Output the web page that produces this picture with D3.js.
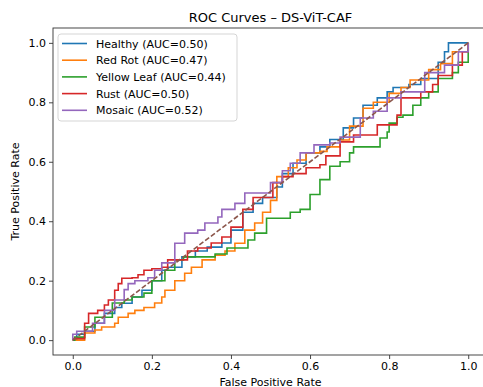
<!DOCTYPE html>
<html>
<head>
<meta charset="utf-8">
<script src="https://cdn.jsdelivr.net/npm/d3@7"></script>
<style>
  body { margin: 0; background: #fff; }
  svg { display: block; overflow: hidden; }
  text { font-family: "DejaVu Sans", sans-serif; fill: #000; }
</style>
</head>
<body>
<script>
(function () {

  // ROC points, [fpr, tpr]
  let healthy = [
    [0, 0], [0.01, 0.02], [0.03, 0.03], [0.056, 0.057], [0.08, 0.09], [0.106, 0.11], [0.124, 0.124],
    [0.15, 0.145], [0.175, 0.168], [0.2, 0.2], [0.225, 0.235], [0.24, 0.245], [0.276, 0.28], [0.31, 0.3],
    [0.34, 0.313], [0.377, 0.327], [0.4, 0.37], [0.43, 0.43], [0.456, 0.46], [0.48, 0.48], [0.516, 0.515],
    [0.53, 0.56], [0.557, 0.595], [0.59, 0.63], [0.625, 0.65], [0.65, 0.675], [0.684, 0.714], [0.71, 0.747],
    [0.734, 0.79], [0.77, 0.815], [0.795, 0.835], [0.81, 0.85], [0.85, 0.86], [0.88, 0.88], [0.924, 0.935],
    [0.94, 0.97], [0.95, 1.0], [1, 1]
  ];
  let redRot = [
    [0, 0], [0.03, 0.024], [0.056, 0.034], [0.073, 0.044], [0.106, 0.057], [0.115, 0.077], [0.14, 0.09],
    [0.157, 0.1], [0.18, 0.11], [0.207, 0.125], [0.225, 0.145], [0.233, 0.168], [0.258, 0.2], [0.283, 0.225],
    [0.3, 0.245], [0.327, 0.27], [0.36, 0.286], [0.385, 0.3], [0.41, 0.326], [0.435, 0.37], [0.46, 0.394],
    [0.48, 0.43], [0.5, 0.47], [0.516, 0.55], [0.545, 0.58], [0.567, 0.606], [0.59, 0.63], [0.625, 0.635],
    [0.643, 0.65], [0.676, 0.673], [0.7, 0.72], [0.734, 0.78], [0.76, 0.8], [0.8, 0.83], [0.83, 0.85],
    [0.853, 0.875], [0.9, 0.91], [0.93, 0.93], [0.96, 0.97], [1, 1]
  ];
  let yellowLeaf = [
    [0, 0], [0.005, 0.01], [0.03, 0.044], [0.056, 0.077], [0.1, 0.125], [0.13, 0.135], [0.15, 0.145],
    [0.18, 0.158], [0.2, 0.2], [0.233, 0.235], [0.258, 0.27], [0.28, 0.28], [0.36, 0.29], [0.39, 0.31],
    [0.443, 0.337], [0.46, 0.36], [0.49, 0.41], [0.55, 0.43], [0.575, 0.44], [0.6, 0.49], [0.625, 0.54],
    [0.65, 0.585], [0.676, 0.6], [0.7, 0.63], [0.71, 0.65], [0.76, 0.65], [0.777, 0.68], [0.795, 0.7],
    [0.8, 0.73], [0.82, 0.75], [0.835, 0.757], [0.86, 0.79], [0.88, 0.815], [0.9, 0.835], [0.924, 0.88],
    [0.96, 0.9], [0.975, 0.935], [1, 1]
  ];
  let rust = [
    [0, 0], [0.0, 0.005], [0.03, 0.057], [0.04, 0.09], [0.063, 0.1], [0.08, 0.118], [0.09, 0.135],
    [0.106, 0.168], [0.115, 0.19], [0.124, 0.208], [0.15, 0.21], [0.165, 0.22], [0.18, 0.235], [0.2, 0.24],
    [0.225, 0.245], [0.24, 0.27], [0.29, 0.3], [0.316, 0.31], [0.35, 0.327], [0.377, 0.347], [0.4, 0.38],
    [0.43, 0.44], [0.456, 0.48], [0.506, 0.53], [0.53, 0.55], [0.557, 0.56], [0.59, 0.58], [0.625, 0.59],
    [0.64, 0.62], [0.676, 0.667], [0.71, 0.69], [0.74, 0.69], [0.77, 0.724], [0.82, 0.757], [0.83, 0.815],
    [0.88, 0.835], [0.91, 0.86], [0.924, 0.89], [0.96, 0.925], [0.985, 0.97], [1, 1]
  ];
  let mosaic = [
    [0, 0], [0.0, 0.02], [0.01, 0.03], [0.05, 0.057], [0.08, 0.1], [0.106, 0.135], [0.13, 0.17],
    [0.14, 0.19], [0.157, 0.2], [0.19, 0.21], [0.207, 0.235], [0.225, 0.26], [0.258, 0.326], [0.283, 0.36],
    [0.316, 0.37], [0.334, 0.394], [0.367, 0.414], [0.377, 0.44], [0.41, 0.46], [0.435, 0.495], [0.456, 0.495],
    [0.5, 0.53], [0.53, 0.57], [0.55, 0.595], [0.575, 0.63], [0.61, 0.657], [0.65, 0.663], [0.676, 0.683],
    [0.727, 0.747], [0.76, 0.77], [0.795, 0.815], [0.83, 0.835], [0.89, 0.9], [0.94, 0.925], [0.975, 0.97], [1, 1]
  ];

  let labels  = ['Healthy (AUC=0.50)', 'Red Rot (AUC=0.47)', 'Yellow Leaf (AUC=0.44)', 'Rust (AUC=0.50)', 'Mosaic (AUC=0.52)'];
  let colors  = ['#1f77b4', '#ff7f0e', '#2ca02c', '#d62728', '#9467bd'];
  let ticks   = [0, 0.2, 0.4, 0.6, 0.8, 1.0];
  let series  = [healthy, redRot, yellowLeaf, rust, mosaic];

  // axes box (right spine falls just outside the picture)
  let totalWidth = 483, totalHeight = 387;
  let box = { left: 53, right: 488, top: 28, bottom: 355 };

  let x = d3.scaleLinear().domain([-0.05, 1.05]).range([box.left, box.right]);
  let y = d3.scaleLinear().domain([-0.05, 1.05]).range([box.bottom, box.top]);

  let svg = d3.select('body').append('svg')
      .attr('width', totalWidth)
      .attr('height', totalHeight);

  let line = d3.line()
      .x(function (d) { return x(d[0]); })
      .y(function (d) { return y(d[1]); })
      .curve(d3.curveStepAfter);

  let plot = svg.append('g');

  plot.selectAll('path.roc').data(series)
    .enter().append('path')
    .attr('class', 'roc')
    .attr('d', line)
    .attr('fill', 'none')
    .attr('stroke', function (d, i) { return colors[i]; })
    .attr('stroke-width', 1.6)
    .attr('stroke-linejoin', 'miter');

  // chance line
  plot.append('path')
    .attr('d', d3.line().x(function (d) { return x(d[0]); }).y(function (d) { return y(d[1]); })([[0, 0], [1, 1]]))
    .attr('fill', 'none')
    .attr('stroke', '#8c564b')
    .attr('stroke-width', 1.6)
    .attr('stroke-dasharray', '5,2.2');

  // axes
  let xAxis = d3.axisBottom(x).tickValues(ticks).tickFormat(d3.format('.1f')).tickSize(4).tickPadding(3);
  let yAxis = d3.axisLeft(y).tickValues(ticks).tickFormat(d3.format('.1f')).tickSize(4).tickPadding(3);

  let gx = svg.append('g').attr('transform', 'translate(0,' + box.bottom + ')').call(xAxis);
  let gy = svg.append('g').attr('transform', 'translate(' + box.left + ',0)').call(yAxis);

  [gx, gy].forEach(function (g) {
    g.select('.domain').remove();
    g.selectAll('line').attr('stroke', '#333').attr('stroke-width', 0.9);
    g.selectAll('text').attr('font-size', 11).attr('fill', '#222').style('font-family', '"DejaVu Sans", sans-serif');
  });

  svg.append('rect')
    .attr('x', box.left)
    .attr('y', box.top)
    .attr('width', box.right - box.left)
    .attr('height', box.bottom - box.top)
    .attr('fill', 'none')
    .attr('stroke', '#333')
    .attr('stroke-width', 0.9);

  // titles
  svg.append('text')
    .attr('x', (box.left + box.right) / 2)
    .attr('y', 22)
    .attr('text-anchor', 'middle')
    .attr('font-size', 13)
    .text('ROC Curves – DS-ViT-CAF');

  svg.append('text')
    .attr('x', (box.left + box.right) / 2)
    .attr('y', 386)
    .attr('text-anchor', 'middle')
    .attr('font-size', 11)
    .text('False Positive Rate');

  svg.append('text')
    .attr('transform', 'translate(19,' + ((box.top + box.bottom) / 2) + ') rotate(-90)')
    .attr('text-anchor', 'middle')
    .attr('font-size', 11)
    .text('True Positive Rate');

  // legend
  let legend = svg.append('g').attr('transform', 'translate(58,34)');

  legend.append('rect')
    .attr('width', 179)
    .attr('height', 87)
    .attr('rx', 3)
    .attr('fill', 'rgba(255,255,255,0.85)')
    .attr('stroke', '#d0d0d0')
    .attr('stroke-width', 0.9);

  let rows = legend.selectAll('g.item').data(labels)
    .enter().append('g')
    .attr('class', 'item')
    .attr('transform', function (d, i) { return 'translate(0,' + (9.5 + i * 16.7) + ')'; });

  rows.append('line')
    .attr('x1', 4).attr('x2', 29)
    .attr('y1', 0).attr('y2', 0)
    .attr('stroke', function (d, i) { return colors[i]; })
    .attr('stroke-width', 1.6);

  rows.append('text')
    .attr('x', 38)
    .attr('y', 4)
    .attr('font-size', 11)
    .text(function (d) { return d; });

})();
</script>
</body>
</html>
